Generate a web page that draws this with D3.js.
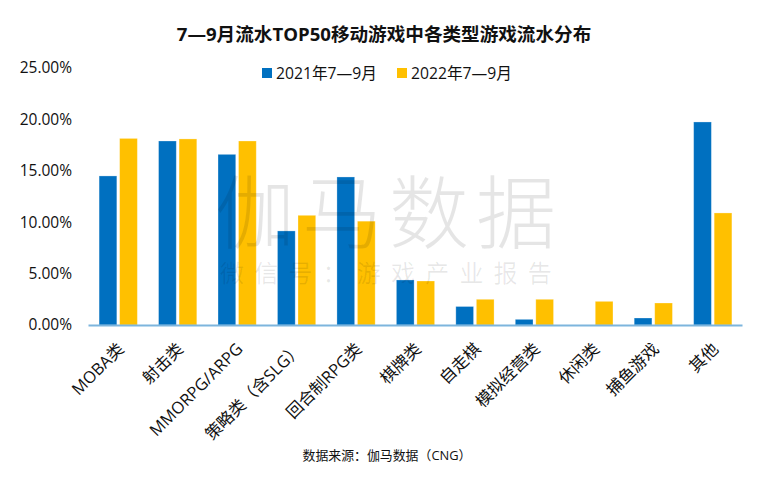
<!DOCTYPE html>
<html>
<head>
<meta charset="utf-8">
<script src="https://cdn.jsdelivr.net/npm/d3@7"></script>
<style>
  html, body { margin: 0; padding: 0; background: #fff; }
  text { font-family: "Open Sans", "Noto Sans CJK SC", sans-serif; fill: #111; }
</style>
</head>
<body>
<svg width="774" height="488"></svg>
<script>
var categories = ["MOBA类", "射击类", "MMORPG/ARPG", "策略类（含SLG）", "回合制RPG类", "棋牌类", "自走棋", "模拟经营类", "休闲类", "捕鱼游戏", "其他"];
var values2021 = [14.5, 17.9, 16.6, 9.15, 14.4, 4.38, 1.8, 0.55, 0, 0.68, 19.75];
var values2022 = [18.15, 18.1, 17.9, 10.67, 10.1, 4.28, 2.5, 2.5, 2.3, 2.14, 10.9];
var seriesNames = ["2021年7—9月", "2022年7—9月"];
var yTicks = [0, 5, 10, 15, 20, 25];

var svg = d3.select("svg");
var margin = {left: 88, right: 742, top: 68, bottom: 325};
var colors = ["#0070c0", "#ffc000"];

var x = d3.scaleBand().domain(categories).range([margin.left, margin.right]);
var y = d3.scaleLinear().domain([0, 25]).range([margin.bottom, margin.top]);
var barW = x.step() * 0.298;
var gap = 1.4;
var shift = 0.5;

// title
svg.append("text")
  .attr("x", 384).attr("y", 40.5)
  .attr("text-anchor", "middle")
  .style("font-size", "18.6px").style("font-weight", "700")
  .text("7—9月流水TOP50移动游戏中各类型游戏流水分布");

// y axis labels only, no line
var yAxis = svg.append("g")
  .attr("transform", "translate(" + margin.left + ",0)")
  .call(d3.axisLeft(y).tickValues(yTicks).tickSize(0).tickPadding(16)
    .tickFormat(function(d) { return d.toFixed(2) + "%"; }));
yAxis.select(".domain").remove();
yAxis.selectAll("text").style("font-size", "15.5px");

// legend
var legendX = [262, 397];
var legend = svg.selectAll(".legend").data(seriesNames).enter().append("g")
  .attr("class", "legend")
  .attr("transform", function(d, i) { return "translate(" + legendX[i] + ",68)"; });
legend.append("rect")
  .attr("width", 10).attr("height", 10)
  .attr("fill", function(d, i) { return colors[i]; });
legend.append("text")
  .attr("x", 14).attr("y", 10.5)
  .style("font-size", "15.7px")
  .text(function(d) { return d; });

// bars
function drawBars(vals, color, offset) {
  svg.append("g").selectAll("rect").data(vals).enter().append("rect")
    .attr("x", function(d, i) { return x(categories[i]) + x.step() / 2 + offset + shift; })
    .attr("y", function(d) { return y(d); })
    .attr("width", barW)
    .attr("height", function(d) { return y(0) - y(d); })
    .attr("fill", color)
    .attr("stroke", "#fff").attr("stroke-opacity", 0.35).attr("stroke-width", 0.8);
}
drawBars(values2021, colors[0], -barW - gap);
drawBars(values2022, colors[1], gap);

// watermark sits on top of the bars
svg.append("text")
  .attr("x", 389).attr("y", 242)
  .attr("text-anchor", "middle")
  .style("font-family", "'Noto Sans CJK SC'").style("font-weight", "300")
  .style("font-size", "80px").style("letter-spacing", "7px")
  .style("fill", "#000").style("fill-opacity", 0.1)
  .text("伽马数据");
svg.append("text")
  .attr("x", 391).attr("y", 282)
  .attr("text-anchor", "middle")
  .style("font-family", "'Noto Sans CJK SC'").style("font-weight", "400")
  .style("font-size", "24px").style("letter-spacing", "10.2px")
  .style("fill", "#000").style("fill-opacity", 0.09)
  .text("微信号：游戏产业报告");

// x axis
var xAxis = svg.append("g")
  .attr("transform", "translate(0," + margin.bottom + ")")
  .call(d3.axisBottom(x).tickSize(0).tickPadding(0));
xAxis.select(".domain").attr("stroke", "#7db5dd").attr("stroke-width", 2);
xAxis.selectAll("text")
  .style("font-size", "16.5px")
  .attr("text-anchor", "end")
  .attr("dy", "0.35em")
  .attr("transform", "translate(3,21) rotate(-45)");

// source
svg.append("text")
  .attr("x", 387).attr("y", 460)
  .attr("text-anchor", "middle")
  .style("font-size", "12.9px")
  .text("数据来源：伽马数据（CNG）");
</script>
</body>
</html>
